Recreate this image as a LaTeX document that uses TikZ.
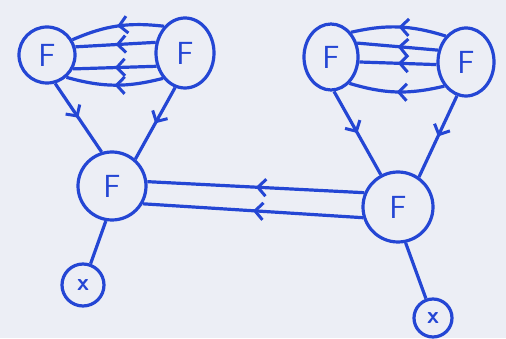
\documentclass[tikz,border=0pt]{standalone}
\usetikzlibrary{decorations.markings,arrows.meta,shapes.geometric}
\definecolor{ink}{RGB}{36,70,212}
\definecolor{paper}{RGB}{236,238,245}
\begin{document}
\begin{tikzpicture}[x=1pt,y=-1pt,
  vtx/.style={circle,draw=ink,line width=3.2pt,text=ink,inner sep=0pt,font=\sffamily\fontsize{32}{32}\selectfont},
  xv/.style={circle,draw=ink,line width=3.2pt,text=ink,inner sep=0pt,font=\sffamily\bfseries\fontsize{24}{24}\selectfont},
  ln/.style={draw=ink,line width=3.2pt},
  mid/.style={postaction={decorate},decoration={markings,mark=at position #1 with {\arrow{Straight Barb[length=8pt,width=17pt,line width=3pt]}}}},
  mid/.default=0.5]
\fill[paper] (0,0) rectangle (506,338);
\node[vtx,minimum size=56pt] (a) at (47,55) {F};
\node[vtx,ellipse,minimum width=58pt,minimum height=70pt] (b) at (185,53) {F};
\node[vtx,minimum size=68pt] (c) at (112,186) {F};
\node[xv,minimum size=42pt] (d) at (83,285) {x};
\node[vtx,ellipse,minimum width=54pt,minimum height=66pt] (e) at (331,57) {F};
\node[vtx,ellipse,minimum width=56pt,minimum height=68pt] (f) at (466,62) {F};
\node[vtx,minimum size=70pt] (g) at (398,207) {F};
\node[xv,minimum size=38pt] (h) at (433,318) {x};
% left cluster
\draw[ln,mid] (b.128) to[bend right=15] (a.31);
\draw[ln,mid] (b.160) -- (a.16);
\draw[ln,mid] (b.205) -- (a.-28);
\draw[ln,mid] (b.229) to[bend left=15] (a.-49);
\draw[ln,mid] (a.-74) -- (c.107);
\draw[ln,mid] (b.-106) -- (c.49);
% right cluster
\draw[ln,mid] (f.128) to[bend right=15] (e.51);
\draw[ln,mid] (f.157) -- (e.28);
\draw[ln,mid] (f.185) -- (e.-10);
\draw[ln,mid] (f.228) to[bend left=15] (e.-55);
\draw[ln,mid] (e.-85) -- (g.118);
\draw[ln,mid] (f.-105) -- (g.55);
% bridge
\draw[ln,mid] (g.157) -- (c.7);
\draw[ln,mid] (g.197) -- (c.-30);
% externals
\draw[ln] (c.-100) -- (d);
\draw[ln] (g.-78) -- (h);
\end{tikzpicture}
\end{document}
